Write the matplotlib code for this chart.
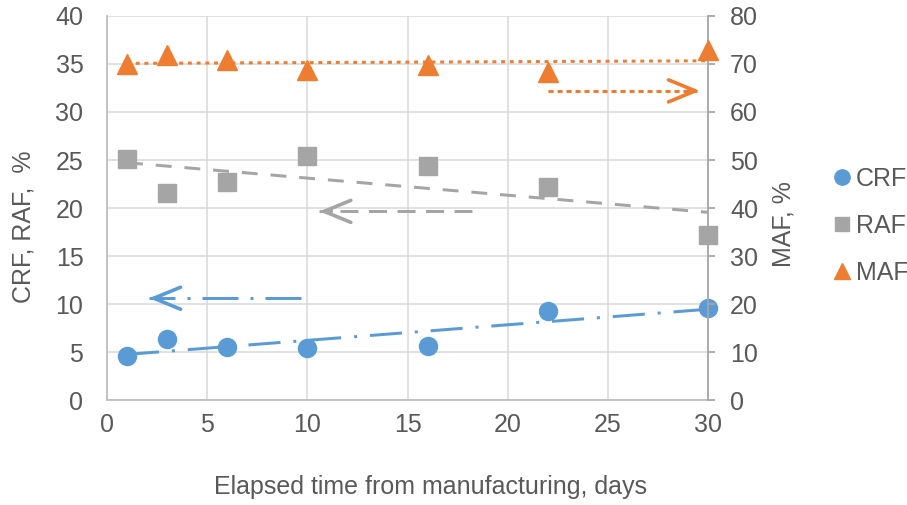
import numpy as np
import matplotlib
matplotlib.use("Agg")
import matplotlib.pyplot as plt
from matplotlib.lines import Line2D

# Measured fractions versus elapsed time
days = [1, 3, 6, 10, 16, 22, 30]
crf = [4.55, 6.35, 5.55, 5.45, 5.6, 9.3, 9.6]
raf = [25.15, 21.6, 22.75, 25.4, 24.4, 22.15, 17.15]
maf = [70.1, 71.8, 70.9, 68.7, 69.7, 68.3, 72.9]

x_ticks = [0, 5, 10, 15, 20, 25, 30]
left_ticks = [0, 5, 10, 15, 20, 25, 30, 35, 40]
right_ticks = [0, 10, 20, 30, 40, 50, 60, 70, 80]

C_BLUE = "#5B9BD5"
C_GRAY = "#A5A5A5"
C_ORANGE = "#ED7D31"
C_TEXT = "#595959"
C_GRID = "#D9D9D9"
C_AXIS = "#BFBFBF"

plt.rcParams["font.family"] = ["Liberation Sans", "DejaVu Sans"]
FS = 18

W, H = 907, 505
fig = plt.figure(figsize=(W / 100, H / 100), dpi=100)
L, R, T, B = 107, 708, 16, 400
ax = fig.add_axes([L / W, 1 - B / H, (R - L) / W, (B - T) / H])
ax2 = ax.twinx()

ax.set_xlim(0, 30)
ax.set_ylim(0, 40)
ax2.set_ylim(0, 80)
ax.set_xticks(x_ticks)
ax.set_yticks(left_ticks)
ax2.set_yticks(right_ticks)

ax.grid(True, color=C_GRID, lw=1.1)
ax.set_axisbelow(True)
for a in (ax, ax2):
    for s in a.spines.values():
        s.set_visible(False)
ax.spines["left"].set_visible(True)
ax.spines["left"].set_color(C_AXIS)
ax.spines["bottom"].set_visible(True)
ax.spines["bottom"].set_color(C_AXIS)
ax2.spines["right"].set_visible(True)
ax2.spines["right"].set_color("#A6A6A6")
for s in (ax.spines["left"], ax.spines["bottom"], ax2.spines["right"]):
    s.set_linewidth(1.3)

ax.tick_params(axis="both", length=0, labelsize=FS, labelcolor=C_TEXT)
ax.tick_params(axis="y", pad=17)
ax.tick_params(axis="x", pad=9)
ax2.tick_params(axis="y", length=5, width=1.3, color="#A6A6A6", direction="out",
                labelsize=FS, labelcolor=C_TEXT, pad=11)

lw_px = 3
lw = lw_px * 0.72

# Data markers
ax.plot(days, crf, ls="none", marker="o", ms=13, color=C_BLUE, clip_on=False, zorder=3)
ax.plot(days, raf, ls="none", marker="s", ms=12.5, color=C_GRAY, clip_on=False, zorder=3)
ax2.plot(days, maf, ls="none", marker="^", ms=14, color=C_ORANGE, clip_on=False, zorder=3)

# Linear trend lines over the measured range
xr = np.array([days[0], days[-1]], dtype=float)
for a, vals, col, dsh in [
    (ax, crf, C_BLUE, (10.7, 4.3, 1, 4.3)),
    (ax, raf, C_GRAY, (5.3, 4.3)),
    (ax2, maf, C_ORANGE, (1.3, 1.6)),
]:
    k, b0 = np.polyfit(days, vals, 1)
    a.plot(xr, k * xr + b0, color=col, lw=lw, dashes=dsh, zorder=4, clip_on=False)


def axis_arrow(a, x_tail, x_tip, y, color, dashes):
    """Dashed shaft with an open arrowhead pointing to the axis it refers to."""
    a.plot([x_tail, x_tip], [y, y], color=color, lw=lw, dashes=dashes, zorder=4)
    step = 0.6 if x_tip > x_tail else -0.6
    a.annotate("", xy=(x_tip, y), xytext=(x_tip - step, y),
                arrowprops=dict(arrowstyle="->,head_length=1.75,head_width=0.72",
                                mutation_scale=11, color=color, lw=2.6,
                                shrinkA=0, shrinkB=0),
                zorder=4)


axis_arrow(ax, 9.7, 2.1, 10.6, C_BLUE, (12, 4, 1, 4))
axis_arrow(ax, 18.2, 10.6, 19.65, C_GRAY, (6, 3.5))
axis_arrow(ax2, 22.0, 29.6, 64.4, C_ORANGE, (1.7, 1.3))

# Axis titles
fig.text(24 / W, 1 - 227 / H, "CRF, RAF,  %", rotation=90, ha="center", va="center",
         fontsize=FS, color=C_TEXT)
fig.text(783 / W, 1 - 224 / H, "MAF, %", rotation=90, ha="center", va="center",
         fontsize=FS, color=C_TEXT)
fig.text(430 / W, 1 - 487 / H, "Elapsed time from manufacturing, days",
         ha="center", va="center", fontsize=FS, color=C_TEXT)

# Legend
handles = [
    Line2D([], [], ls="none", marker="o", ms=11, color=C_BLUE),
    Line2D([], [], ls="none", marker="s", ms=10, color=C_GRAY),
    Line2D([], [], ls="none", marker="^", ms=11, color=C_ORANGE),
]
fig.legend(handles, ["CRF", "RAF", "MAF"], loc="center left",
           bbox_to_anchor=(833 / W, 1 - 226 / H), frameon=False, fontsize=FS,
           labelcolor=C_TEXT, handlelength=0.7, handletextpad=0.2,
           labelspacing=0.92, borderpad=0, borderaxespad=0)

fig.savefig("out.png", dpi=100)
